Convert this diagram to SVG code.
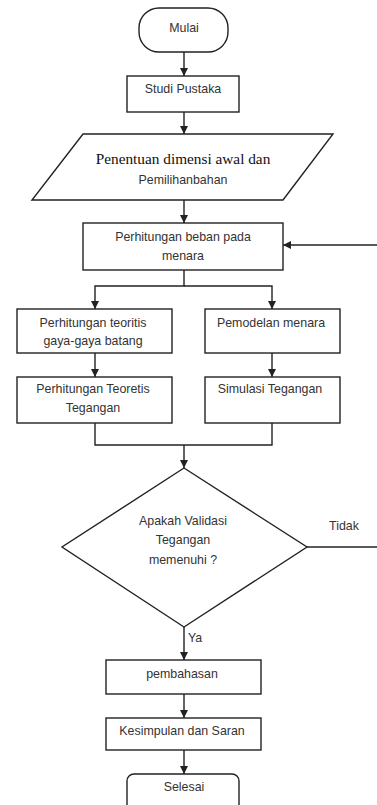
<svg xmlns="http://www.w3.org/2000/svg" width="377" height="805" viewBox="0 0 377 805">
<style>
.s{fill:#fff;stroke:#222;stroke-width:1.4}
.c{fill:none;stroke:#222;stroke-width:1.4}
text{font-family:"Liberation Sans",Arial,sans-serif;font-size:12.4px;fill:#333;text-anchor:middle}
.serif{font-family:"Liberation Serif","Times New Roman",serif;font-size:15.3px;fill:#111}
.l{text-anchor:start}
</style>
<defs>
<marker id="ah" viewBox="0 0 8 8" refX="8" refY="4" markerWidth="8" markerHeight="8" markerUnits="userSpaceOnUse" orient="auto">
<path d="M0,0 L8,4 L0,8 Z" fill="#222"/>
</marker>
</defs>
<g id="connectors">
<line class="c" x1="184" y1="52" x2="184" y2="76" marker-end="url(#ah)"/>
<line class="c" x1="184" y1="112" x2="184" y2="134" marker-end="url(#ah)"/>
<line class="c" x1="184" y1="200" x2="184" y2="223" marker-end="url(#ah)"/>
<polyline class="c" points="184,270 184,286 95,286 95,309" marker-end="url(#ah)"/>
<polyline class="c" points="184,286 272,286 272,309" marker-end="url(#ah)"/>
<line class="c" x1="95" y1="353" x2="95" y2="377" marker-end="url(#ah)"/>
<line class="c" x1="272" y1="353" x2="272" y2="377" marker-end="url(#ah)"/>
<polyline class="c" points="95,423 95,445 272,445 272,423"/>
<line class="c" x1="184" y1="445" x2="184" y2="468" marker-end="url(#ah)"/>
<line class="c" x1="307" y1="547" x2="377" y2="547"/>
<line class="c" x1="377" y1="245" x2="283" y2="245" marker-end="url(#ah)"/>
<line class="c" x1="184" y1="627" x2="184" y2="660" marker-end="url(#ah)"/>
<line class="c" x1="184" y1="694" x2="184" y2="718" marker-end="url(#ah)"/>
<line class="c" x1="184" y1="750" x2="184" y2="774" marker-end="url(#ah)"/>
<text x="344" y="530">Tidak</text>
<text class="l" x="188" y="642">Ya</text>
</g>
<g id="mulai">
<rect class="s" x="139" y="8" width="89" height="44" rx="20" ry="20"/>
<text x="184" y="32">Mulai</text>
</g>
<g id="studi">
<rect class="s" x="127" y="76" width="112" height="36"/>
<text x="183" y="93">Studi Pustaka</text>
</g>
<g id="penentuan">
<polygon class="s" points="83,134 333,134 283,200 32,200"/>
<text class="serif" x="183" y="164">Penentuan dimensi awal dan</text>
<text x="183" y="184">Pemilihanbahan</text>
</g>
<g id="beban">
<rect class="s" x="83" y="223" width="200" height="47"/>
<text x="183" y="241">Perhitungan beban pada</text>
<text x="183" y="260">menara</text>
</g>
<g id="teoritis">
<rect class="s" x="17" y="309" width="155" height="44"/>
<text x="93" y="327">Perhitungan teoritis</text>
<text x="93" y="345">gaya-gaya batang</text>
</g>
<g id="pemodelan">
<rect class="s" x="205" y="309" width="135" height="44"/>
<text x="271" y="327">Pemodelan menara</text>
</g>
<g id="tegangan">
<rect class="s" x="17" y="377" width="155" height="46"/>
<text x="93" y="393">Perhitungan Teoretis</text>
<text x="93" y="412">Tegangan</text>
</g>
<g id="simulasi">
<rect class="s" x="205" y="377" width="135" height="46"/>
<text x="270" y="393">Simulasi Tegangan</text>
</g>
<g id="validasi">
<polygon class="s" points="184,468 307,547 184,627 62,547"/>
<text x="183" y="525">Apakah Validasi</text>
<text x="183" y="544">Tegangan</text>
<text x="183" y="564">memenuhi ?</text>
</g>
<g id="pembahasan">
<rect class="s" x="106" y="660" width="155" height="34"/>
<text x="182" y="678">pembahasan</text>
</g>
<g id="kesimpulan">
<rect class="s" x="106" y="718" width="155" height="32"/>
<text x="182" y="735">Kesimpulan dan Saran</text>
</g>
<g id="selesai">
<rect class="s" x="127" y="774" width="112" height="40" rx="7" ry="7"/>
<text x="184" y="791">Selesai</text>
</g>
</svg>
